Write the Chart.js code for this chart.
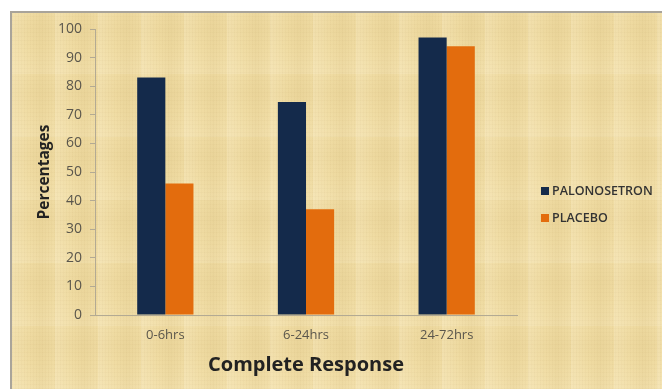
<!DOCTYPE html>
<html>
<head>
<meta charset="utf-8">
<script src="https://cdn.jsdelivr.net/npm/chart.js@4/dist/chart.umd.min.js"></script>
<style>
  html, body { margin: 0; padding: 0; background: #ffffff; }
  body { width: 662px; height: 389px; position: relative; overflow: hidden; }
  /* papyrus-like panel behind the chart */
  .panel {
    position: absolute; left: 10px; top: 11px; width: 652px; height: 378px;
    border-left: 2px solid #a9a49a; border-top: 2px solid #a9a49a;
    box-sizing: border-box;
    background-color: #f0dca3;
    background-image:
      repeating-linear-gradient(90deg, rgba(150,120,60,0.035) 0px, rgba(150,120,60,0.035) 1px, transparent 1px, transparent 3px),
      repeating-linear-gradient(0deg, rgba(150,120,60,0.03) 0px, rgba(150,120,60,0.03) 1px, transparent 1px, transparent 4px),
      repeating-linear-gradient(90deg, rgba(255,246,220,0.22) 0px, transparent 17px, rgba(195,165,95,0.09) 29px, transparent 43px),
      repeating-linear-gradient(0deg, rgba(255,246,220,0.16) 0px, transparent 26px, rgba(195,165,95,0.06) 44px, transparent 63px);
  }
  canvas { position: absolute; left: 0; top: 0; }
</style>
</head>
<body>
<div class="panel"></div>
<canvas id="chart" width="662" height="389"></canvas>
<script>
const categories = ['0-6hrs', '6-24hrs', '24-72hrs'];
const seriesNames = ['PALONOSETRON', 'PLACEBO'];
const palonosetron = [83, 74.5, 97];
const placebo = [46, 37, 94];
const yTicks = [0, 10, 20, 30, 40, 50, 60, 70, 80, 90, 100];

const FONT = '"Open Sans", "Liberation Sans", sans-serif';
const seriesColors = ['#142a4b', '#e36c0d'];

// legend drawn at the right of the plot, one row per dataset
const sideLegend = {
  id: 'sideLegend',
  afterDraw(chart) {
    const ctx = chart.ctx;
    const x0 = chart.chartArea.right + 24;
    const yStart = 191, step = 27;
    ctx.save();
    ctx.font = '600 12.5px ' + FONT;
    ctx.textBaseline = 'middle';
    ctx.textAlign = 'left';
    chart.data.datasets.forEach((ds, i) => {
      const y = yStart + i * step;
      ctx.fillStyle = ds.backgroundColor;
      ctx.fillRect(x0, y - 4, 8, 8);
      ctx.fillStyle = '#333333';
      ctx.fillText(ds.label, x0 + 11, y + 0.5);
    });
    ctx.restore();
  }
};

new Chart(document.getElementById('chart'), {
  type: 'bar',
  data: {
    labels: categories,
    datasets: [
      { label: seriesNames[0], data: palonosetron, backgroundColor: seriesColors[0] },
      { label: seriesNames[1], data: placebo, backgroundColor: seriesColors[1] }
    ]
  },
  plugins: [sideLegend],
  options: {
    responsive: false,
    animation: false,
    devicePixelRatio: 1,
    layout: { padding: { left: 0, right: 145, top: 29, bottom: 0 } },
    datasets: { bar: { categoryPercentage: 0.4, barPercentage: 1.0 } },
    plugins: { legend: { display: false }, tooltip: { enabled: false } },
    scales: {
      x: {
        grid: { display: false, drawTicks: false },
        border: { display: true, color: '#b3aa93', width: 1 },
        ticks: { color: '#5a564c', font: { family: FONT, size: 13 }, padding: 12 },
        title: {
          display: true, text: 'Complete Response', color: '#222222',
          font: { family: FONT, size: 20, weight: 'bold' }, padding: { top: 0, bottom: 12 }
        },
        afterFit(scale) { scale.height = 74; }
      },
      y: {
        min: 0, max: 100,
        afterBuildTicks(scale) { scale.ticks = yTicks.map(v => ({ value: v })); },
        grid: { drawOnChartArea: false, drawTicks: true, tickLength: 5, color: '#b3aa93' },
        border: { display: true, color: '#b3aa93', width: 1 },
        ticks: { color: '#5a564c', font: { family: FONT, size: 14 }, padding: 8 },
        title: {
          display: true, text: 'Percentages', color: '#222222',
          font: { family: FONT, size: 15.5, weight: 'bold' }, padding: { top: 35, bottom: 0 }
        },
        afterFit(scale) { scale.width = 95; }
      }
    }
  }
});
</script>
</body>
</html>
